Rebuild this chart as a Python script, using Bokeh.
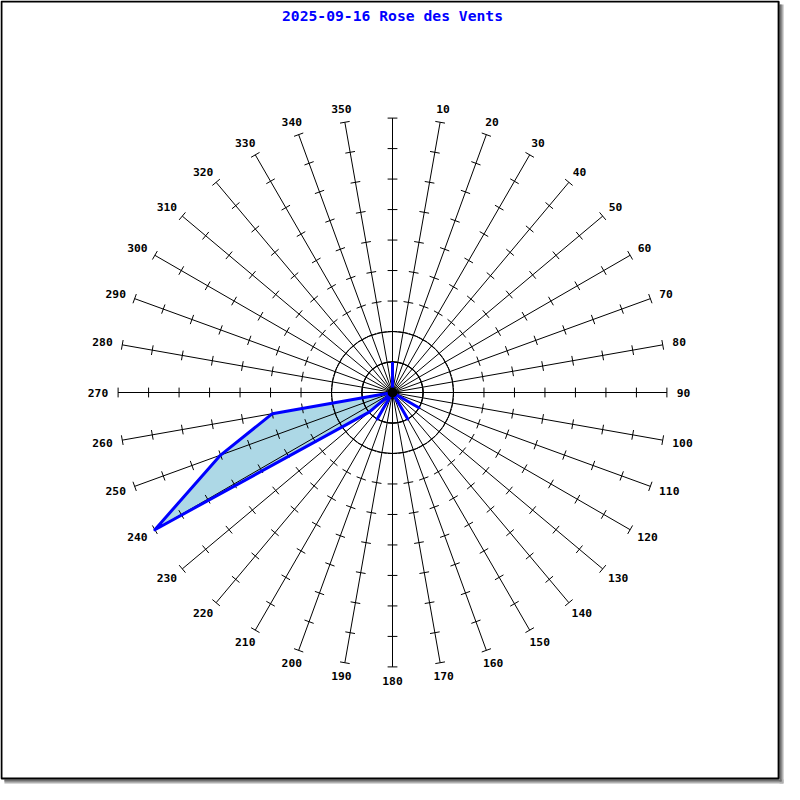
import numpy as np
from bokeh.plotting import figure
from bokeh.models import Range1d
from bokeh.embed import file_html
from bokeh.resources import INLINE
from bokeh.core.properties import value

# ---- data ----
title_text = "2025-09-16 Rose des Vents"
directions = list(range(0, 360, 10))           # bearings, degrees
counts = [1, 0, 0, 0, 0, 0, 0, 0, 0, 0, 0, 0,   # 0 .. 110
          1, 0, 0, 1, 0, 0, 0, 0, 0, 1, 0, 1,   # 120 .. 230
          9, 6, 4, 0, 0, 0, 0, 0, 0, 0, 0, 0]   # 240 .. 350
scale_max = 9
ring_ticks = list(range(1, scale_max + 1))
circle_radii = [1, 2]
label_dirs = [d for d in directions if d != 0]
label_texts = [str(d) for d in label_dirs]

# ---- geometry (reference pixel units converted to data units) ----
PX = 280.0 / scale_max          # reference pixels per count unit
half = 400.0 / PX               # half span of the canvas in data units
S = 784.0 / 800.0               # canvas / reference size

def rx(xpix):                   # reference pixel x -> data x
    return (xpix - 400.0) / PX

def ry(ypix):                   # reference pixel y -> data y
    return (400.0 - ypix) / PX

p = figure(width=784, height=784, output_backend="svg", toolbar_location=None,
           x_range=Range1d(-half, half), y_range=Range1d(-half, half),
           min_border=0)
p.axis.visible = False
p.grid.visible = False
p.background_fill_color = "white"
p.border_fill_color = "white"
p.outline_line_color = None

# frame with shadow
p.quad(left=[rx(4), rx(795)], right=[rx(799), rx(799)],
       top=[ry(795), ry(4)], bottom=[ry(799), ry(799)],
       fill_color="#b0b0b0", line_color=None)
p.quad(left=[rx(4), rx(795)], right=[rx(797), rx(797)],
       top=[ry(795), ry(4)], bottom=[ry(797), ry(797)],
       fill_color="#707070", line_color=None)
p.quad(left=[rx(1)], right=[rx(794)], top=[ry(1)], bottom=[ry(794)],
       fill_color="white", line_color="black", line_width=2)

th = np.radians(np.array(directions, dtype=float))
vals = np.array(counts, dtype=float)

# filled rose (under the grid)
px = vals * np.sin(th)
py = vals * np.cos(th)
p.patch(x=list(px), y=list(py), fill_color="#ADD8E6", line_color=None)

# spokes
p.segment(x0=[0] * len(th), y0=[0] * len(th),
          x1=list(scale_max * np.sin(th)), y1=list(scale_max * np.cos(th)),
          line_color="black", line_width=1)

# tick marks across spokes
hl = 5.0 / PX
tx0, ty0, tx1, ty1 = [], [], [], []
for t in th:
    s, c = np.sin(t), np.cos(t)
    for k in ring_ticks:
        cx, cy = k * s, k * c
        tx0.append(cx - hl * c); ty0.append(cy + hl * s)
        tx1.append(cx + hl * c); ty1.append(cy - hl * s)
p.segment(x0=tx0, y0=ty0, x1=tx1, y1=ty1, line_color="black", line_width=1)

# inner circles
p.circle(x=[0] * len(circle_radii), y=[0] * len(circle_radii), radius=circle_radii,
         fill_color=None, line_color="black", line_width=1)

# outline of the rose
p.line(x=list(px) + [px[0]], y=list(py) + [py[0]], line_color="#0000FF",
       line_width=3, line_join="round")

# dense hub where the spokes meet
p.circle(x=[0], y=[0], radius=[5.0 / PX], fill_color="black", line_color=None)

# direction labels
lt = np.radians(np.array(label_dirs, dtype=float))
lx, ly = [], []
for t, txt in zip(lt, label_texts):
    w = 7.0 * len(txt)
    lx.append((290.0 + w / 2) * np.sin(t) / PX)
    ly.append(294.0 * np.cos(t) / PX)
p.text(x=lx, y=ly, text=label_texts, text_align="center", text_baseline="middle",
       text_font=value("DejaVu Sans Mono"), text_font_style="bold",
       text_font_size="%.1fpx" % (11.5 * S), text_color="black")

# title
p.text(x=[0], y=[ry(15)], text=[title_text], text_align="center",
       text_baseline="middle", text_font=value("DejaVu Sans Mono"),
       text_font_style="bold", text_font_size="%.1fpx" % (15 * S),
       text_color="#0000FF")

open("out.html", "w").write(file_html(p, INLINE))
